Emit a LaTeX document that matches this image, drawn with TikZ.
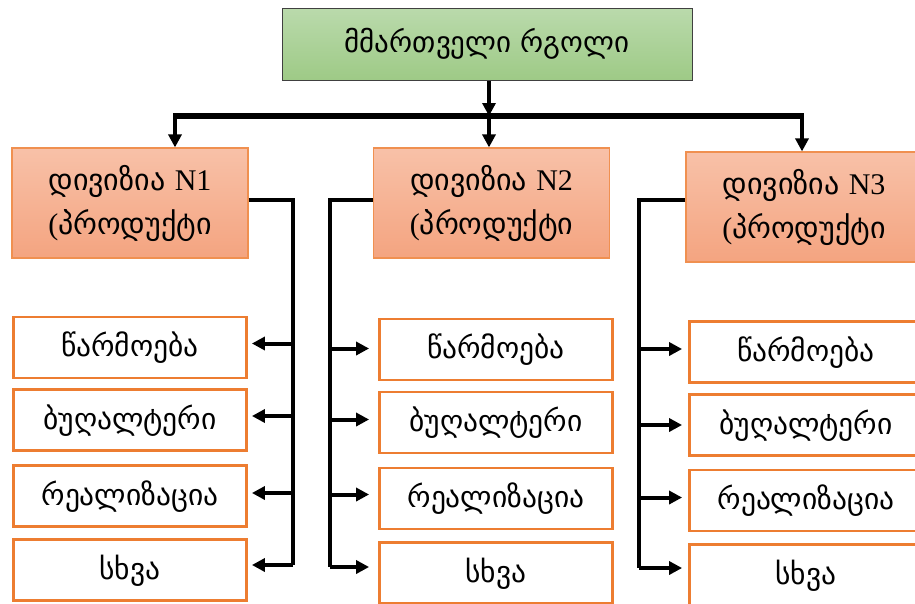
\documentclass[tikz,border=0pt]{standalone}
\usepackage{fontspec}
\setmainfont{DejaVu Sans}
\newfontfamily\latinpart{Liberation Serif}
\usetikzlibrary{arrows.meta}

\definecolor{headtop}{RGB}{186,218,172}
\definecolor{headbot}{RGB}{158,202,134}
\definecolor{headline}{RGB}{64,64,64}
\definecolor{divtop}{RGB}{248,193,168}
\definecolor{divbot}{RGB}{244,164,128}
\definecolor{orangeline}{RGB}{237,125,49}

\tikzset{
  headbox/.style={draw=headline, line width=1pt, top color=headtop, bottom color=headbot,
    minimum width=410pt, minimum height=72pt, inner sep=0pt,
    font=\fontsize{29}{34}\selectfont},
  divbox/.style={draw=orangeline!85, line width=1.2pt, top color=divtop, bottom color=divbot,
    minimum width=236pt, minimum height=110pt, inner sep=0pt, align=center,
    font=\fontsize{30}{44}\selectfont},
  subbox/.style={draw=orangeline, line width=2.8pt, fill=white,
    minimum width=233pt, minimum height=61pt, inner sep=0pt,
    text height=22pt, text depth=4pt,
    font=\fontsize{29.5}{34}\selectfont},
  wire/.style={line width=4pt, black},
  arr/.style={line width=4pt, black, -{Triangle[length=13pt,width=13pt]}},
}

\begin{document}
\begin{tikzpicture}[x=1pt,y=-1pt]
\useasboundingbox (0,0) rectangle (915,603);
\clip (0,0) rectangle (915,603);

% top level
\node[headbox] (top) at (487,44) {მმართველი რგოლი};

% divisions
\node[divbox] (d1) at (130,203) {დივიზია {\latinpart N1}\\{\latinpart(}პროდუქტი};
\node[divbox] (d2) at (491.5,203) {დივიზია {\latinpart N2}\\{\latinpart(}პროდუქტი};
\node[divbox] (d3) at (804,207) {დივიზია {\latinpart N3}\\{\latinpart(}პროდუქტი};

% departments, division 1
\node[subbox] (a1) at (130,347.5) {წარმოება};
\node[subbox] (a2) at (130,420) {ბუღალტერი};
\node[subbox] (a3) at (130,496) {რეალიზაცია};
\node[subbox] (a4) at (130,570) {სხვა};
% departments, division 2
\node[subbox] (b1) at (496,349.5) {წარმოება};
\node[subbox] (b2) at (496,422.5) {ბუღალტერი};
\node[subbox] (b3) at (496,498.5) {რეალიზაცია};
\node[subbox] (b4) at (496,573) {სხვა};
% departments, division 3
\node[subbox] (c1) at (806,352) {წარმოება};
\node[subbox] (c2) at (806,425) {ბუღალტერი};
\node[subbox] (c3) at (806,500.5) {რეალიზაცია};
\node[subbox] (c4) at (806,575) {სხვა};

% distribution bar
\coordinate (barL) at (175,116);
\coordinate (barM) at (489,116);
\coordinate (barR) at (802,116);
\draw[arr] (top.south -| barM) -- (barM);
\draw[line width=6pt] ([xshift=-2pt]barL) -- ([xshift=2pt]barR);
\draw[arr] (barL) -- (barL |- d1.north);
\draw[arr] (barM) -- (barM |- d2.north);
\draw[arr] (barR) -- (barR |- d3.north);

% trunks
\coordinate (t1) at (293,565);
\coordinate (t2) at (330,567);
\coordinate (t3) at (639,568);
\draw[wire] ([yshift=3pt]d1.east) -| (t1);
\draw[wire] ([yshift=3pt]d2.west) -| (t2);
\draw[wire] ([yshift=7pt]d3.west) -| (t3);

% branches
\foreach \n/\s in {a1/4, a2/4, a3/3, a4/5}
  \draw[arr, shorten >=4pt] ([yshift=\s pt]t1 |- \n.east) -- ([yshift=\s pt]\n.east);
\foreach \n/\s in {b1/1, b2/3, b3/4, b4/6}
  \draw[arr, shorten >=9pt] ([yshift=\s pt]t2 |- \n.west) -- ([yshift=\s pt]\n.west);
\foreach \n/\s in {c1/3, c2/0, c3/3, c4/7}
  \draw[arr, shorten >=6pt] ([yshift=\s pt]t3 |- \n.west) -- ([yshift=\s pt]\n.west);
\end{tikzpicture}
\end{document}
